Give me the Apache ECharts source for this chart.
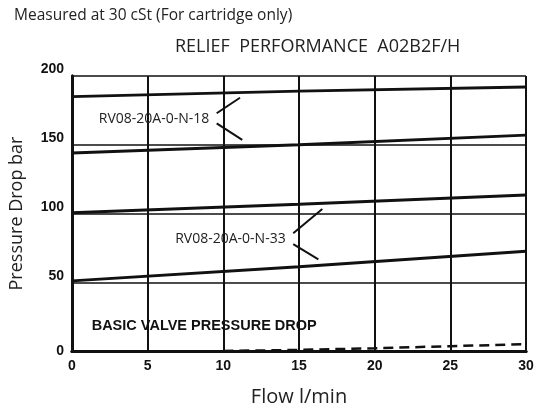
<!DOCTYPE html>
<html>
<head>
<meta charset="utf-8">
<script src="https://cdn.jsdelivr.net/npm/echarts@6/dist/echarts.min.js"></script>
<style>html,body{margin:0;padding:0;background:#fff}#c{width:542px;height:405px}</style>
</head>
<body>
<div id="c"></div>
<script>
// ---- data ----
const xTicks = [0, 5, 10, 15, 20, 25, 30];
const yTicks = [0, 50, 100, 150, 200];
const flow = [0, 15, 30];
const rv18High = [185, 189, 192];
const rv18Low = [144, 150, 157];
const rv33High = [100.5, 106.7, 113.5];
const rv33Low = [51, 61.3, 72.5];
const basicFlow = [10, 15, 20, 25, 30];
const basicDrop = [0, 0.8, 2, 3.5, 5];
const label18 = 'RV08-20A-0-N-18';
const label33 = 'RV08-20A-0-N-33';
const basicLabel = 'BASIC VALVE PRESSURE DROP';
const titleText = 'RELIEF  PERFORMANCE  A02B2F/H';
const noteText = 'Measured at 30 cSt (For cartridge only)';

const pairs = (xs, ys) => xs.map((x, i) => [x, ys[i]]);
const ink = '#111';

const chart = echarts.init(document.getElementById('c'), null, {renderer: 'canvas'});

const solid = (name, ys, extra) => Object.assign({
  name, type: 'line', data: pairs(flow, ys), symbol: 'none', silent: true,
  lineStyle: {color: ink, width: 3}, z: 5
}, extra || {});

const leader = (a, b) => [{coord: a}, {coord: b}];
const tickFont = {fontFamily: 'Liberation Sans', fontWeight: 'bold', fontSize: 14, color: ink};

chart.setOption({
  animation: false,
  backgroundColor: '#fff',
  title: [
    {text: noteText, left: 9, top: 3, textStyle: {fontFamily: 'Open Sans', fontWeight: 'normal', fontSize: 15.5, color: '#222'}},
    {text: titleText, left: 170, top: 33, textStyle: {fontFamily: 'Open Sans', fontWeight: 'normal', fontSize: 18, color: '#222'}}
  ],
  grid: {left: 72, right: 16, top: 76, bottom: 54, containLabel: false, outerBoundsMode: 'none'},
  xAxis: [{
    type: 'value', min: 0, max: 30, interval: 5,
    name: 'Flow l/min', nameLocation: 'middle', nameGap: 36,
    nameTextStyle: {fontFamily: 'Open Sans', fontSize: 20, color: '#222'},
    axisLine: {show: true, lineStyle: {color: ink, width: 3}},
    axisTick: {show: false},
    axisLabel: Object.assign({margin: 8}, tickFont),
    splitLine: {show: true, lineStyle: {color: ink, width: 2}}
  }, {
    type: 'value', min: 0, max: 30, interval: 5, position: 'top',
    axisLine: {show: true, lineStyle: {color: ink, width: 3}},
    axisTick: {show: false}, axisLabel: {show: false}, splitLine: {show: false}
  }],
  yAxis: [{
    type: 'value', min: 0, max: 200, interval: 50,
    name: 'Pressure Drop bar', nameLocation: 'middle', nameGap: 46,
    nameTextStyle: {fontFamily: 'Open Sans', fontSize: 18, color: '#222'},
    axisLine: {show: true, lineStyle: {color: ink, width: 3}},
    axisTick: {show: false},
    axisLabel: {
      margin: 8, verticalAlign: 'middle',
      formatter: v => v === 0 ? '{z|' + v + '}' : '{u|' + v + '}',
      rich: {
        z: Object.assign({padding: [0, 0, 0, 0]}, tickFont),
        u: Object.assign({padding: [0, 0, 13, 0]}, tickFont)
      }
    },
    splitLine: {show: true, lineStyle: {color: ink, width: 1.5}}
  }, {
    type: 'value', min: 0, max: 200, interval: 50, position: 'right',
    axisLine: {show: true, lineStyle: {color: ink, width: 3}},
    axisTick: {show: false}, axisLabel: {show: false}, splitLine: {show: false}
  }],
  series: [
    solid('rv18High', rv18High, {
      markLine: {
        silent: true, symbol: 'none', label: {show: false},
        lineStyle: {color: ink, width: 2, type: 'solid'},
        data: [leader([9.56, 172.9], [11.1, 184.2]), leader([9.56, 165.6], [11.25, 153.5])]
      },
      markPoint: {
        silent: true, symbol: 'circle', symbolSize: 0,
        data: [{coord: [5.42, 168.7], value: label18}],
        label: {show: true, formatter: label18, fontFamily: 'Open Sans', fontSize: 14, color: '#222', position: 'inside'}
      }
    }),
    solid('rv18Low', rv18Low),
    solid('rv33High', rv33High, {
      markLine: {
        silent: true, symbol: 'none', label: {show: false},
        lineStyle: {color: ink, width: 2, type: 'solid'},
        data: [leader([14.62, 85.6], [16.54, 103.3]), leader([14.62, 77.8], [16.28, 66.7])]
      },
      markPoint: {
        silent: true, symbol: 'circle', symbolSize: 0,
        data: [{coord: [10.47, 81.5], value: label33}],
        label: {show: true, formatter: label33, fontFamily: 'Open Sans', fontSize: 14, color: '#222', position: 'inside'}
      }
    }),
    solid('rv33Low', rv33Low, {
      markPoint: {
        silent: true, symbol: 'circle', symbolSize: 0,
        data: [{coord: [1.3, 18.2], value: basicLabel}],
        label: {show: true, formatter: basicLabel, fontFamily: 'Liberation Sans', fontWeight: 'bold', fontSize: 14.5, color: ink, position: 'right', distance: 0}
      }
    }),
    {
      name: 'basic', type: 'line', data: pairs(basicFlow, basicDrop), symbol: 'none', silent: true,
      lineStyle: {color: ink, width: 2.5, type: [10, 6]}, z: 5
    }
  ]
});
</script>
</body>
</html>
